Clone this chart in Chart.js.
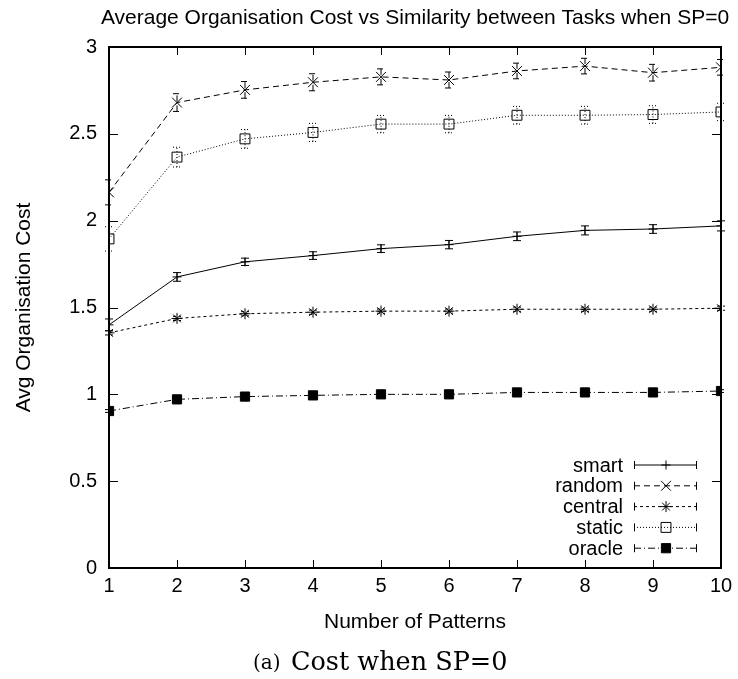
<!DOCTYPE html>
<html>
<head>
<meta charset="utf-8">
<script src="https://cdn.jsdelivr.net/npm/chart.js@4"></script>
<style>
  body { margin: 0; background: #fff; }
  #wrap { width: 738px; height: 679px; }
</style>
</head>
<body>
<div id="wrap"><canvas id="c" width="738" height="679"></canvas></div>
<script>
const patterns = [1, 2, 3, 4, 5, 6, 7, 8, 9, 10];
const yTicks = [0, 0.5, 1, 1.5, 2, 2.5, 3];

const smartCost = [1.40, 1.676, 1.763, 1.799, 1.839, 1.862, 1.91, 1.944, 1.952, 1.97];
const smartErr = [0.034, 0.025, 0.021, 0.022, 0.022, 0.024, 0.025, 0.026, 0.025, 0.029];
const randomCost = [2.163, 2.68, 2.753, 2.797, 2.828, 2.81, 2.862, 2.89, 2.852, 2.883];
const randomErr = [0.072, 0.051, 0.048, 0.049, 0.046, 0.046, 0.045, 0.045, 0.048, 0.045];
const centralCost = [1.354, 1.437, 1.464, 1.473, 1.479, 1.479, 1.49, 1.49, 1.49, 1.496];
const centralErr = [0.012, 0.012, 0.012, 0.012, 0.012, 0.012, 0.012, 0.012, 0.012, 0.012];
const staticCost = [1.895, 2.366, 2.471, 2.508, 2.556, 2.556, 2.607, 2.607, 2.611, 2.626];
const staticErr = [0.07, 0.057, 0.054, 0.052, 0.05, 0.05, 0.051, 0.051, 0.051, 0.05];
const oracleCost = [0.904, 0.971, 0.987, 0.994, 1.0, 1.0, 1.011, 1.011, 1.011, 1.019];
const oracleErr = [0.008, 0.008, 0.008, 0.008, 0.008, 0.008, 0.008, 0.008, 0.008, 0.008];

const FONT = "'Liberation Sans', Arial, sans-serif";

function series(label, vals, errs, style, radius, dash, fill) {
  return {
    label,
    data: patterns.map((x, i) => ({ x, y: vals[i] })),
    errors: errs,
    borderColor: '#000',
    borderWidth: 1,
    borderDash: dash,
    pointStyle: style,
    pointRadius: radius,
    pointBorderWidth: 1,
    pointBorderColor: '#000',
    pointBackgroundColor: fill,
    tension: 0
  };
}

// error bars, inward ticks, frame, legend and captions
const extras = {
  id: 'extras',
  afterDatasetsDraw(chart) {
    const ctx = chart.ctx, xs = chart.scales.x, ys = chart.scales.y;
    chart.data.datasets.forEach(ds => {
      ctx.save();
      ctx.strokeStyle = '#000';
      ctx.lineWidth = 1;
      ctx.setLineDash(ds.borderDash);
      ds.data.forEach((p, i) => {
        const px = xs.getPixelForValue(p.x);
        const lo = ys.getPixelForValue(p.y - ds.errors[i]);
        const hi = ys.getPixelForValue(p.y + ds.errors[i]);
        ctx.beginPath();
        ctx.moveTo(px, lo); ctx.lineTo(px, hi);
        ctx.moveTo(px - 4, lo); ctx.lineTo(px + 4, lo);
        ctx.moveTo(px - 4, hi); ctx.lineTo(px + 4, hi);
        ctx.stroke();
      });
      ctx.restore();
    });
  },
  afterDraw(chart) {
    const ctx = chart.ctx, a = chart.chartArea, xs = chart.scales.x, ys = chart.scales.y;
    ctx.save();
    ctx.strokeStyle = '#000';
    ctx.lineWidth = 1;
    ctx.beginPath();
    patterns.forEach(v => {
      const px = Math.round(xs.getPixelForValue(v)) + 0.5;
      ctx.moveTo(px, a.bottom); ctx.lineTo(px, a.bottom - 8);
      ctx.moveTo(px, a.top); ctx.lineTo(px, a.top + 8);
    });
    yTicks.forEach(v => {
      const py = Math.round(ys.getPixelForValue(v)) + 0.5;
      ctx.moveTo(a.left, py); ctx.lineTo(a.left + 9, py);
      ctx.moveTo(a.right, py); ctx.lineTo(a.right - 9, py);
    });
    ctx.stroke();
    ctx.lineWidth = 2;
    ctx.strokeRect(a.left, a.top, a.right - a.left, a.bottom - a.top);

    // legend, gnuplot style: text then sample
    ctx.font = '20px ' + FONT;
    ctx.fillStyle = '#000';
    ctx.textAlign = 'right';
    ctx.textBaseline = 'middle';
    chart.data.datasets.forEach((ds, i) => {
      const y = 465 + i * 20.8;
      ctx.fillText(ds.label, 623, y + 1);
      ctx.lineWidth = 1;
      ctx.setLineDash(ds.borderDash);
      ctx.beginPath();
      ctx.moveTo(634, y); ctx.lineTo(697, y);
      ctx.stroke();
      ctx.setLineDash([]);
      ctx.beginPath();
      ctx.moveTo(634.5, y - 4); ctx.lineTo(634.5, y + 4);
      ctx.moveTo(696.5, y - 4); ctx.lineTo(696.5, y + 4);
      ctx.stroke();
      ctx.fillStyle = ds.pointBackgroundColor;
      Chart.helpers.drawPoint(ctx, { pointStyle: ds.pointStyle, radius: ds.pointRadius, borderWidth: 1, rotation: 0 }, 666, y);
      ctx.fillStyle = '#000';
    });

    ctx.textAlign = 'center';
    ctx.textBaseline = 'middle';
    ctx.font = '21px ' + FONT;
    ctx.fillText('Average Organisation Cost vs Similarity between Tasks when SP=0', (a.left + a.right) / 2, 18);

    ctx.textAlign = 'left';
    ctx.textBaseline = 'alphabetic';
    ctx.font = '20px "DejaVu Serif", serif';
    ctx.fillText('(a)', 253, 669);
    ctx.font = '25.5px "DejaVu Serif", serif';
    ctx.fillText('Cost when SP=0', 291, 670);
    ctx.restore();
  }
};

new Chart(document.getElementById('c'), {
  type: 'line',
  data: {
    datasets: [
      series('smart', smartCost, smartErr, 'cross', 4.5, [], '#000'),
      series('random', randomCost, randomErr, 'crossRot', 7, [6, 4], '#000'),
      series('central', centralCost, centralErr, 'star', 5.5, [3, 3], '#000'),
      series('static', staticCost, staticErr, 'rect', 7, [1, 2], 'rgba(0,0,0,0)'),
      series('oracle', oracleCost, oracleErr, 'rect', 6.5, [7, 3, 1, 3], '#000')
    ]
  },
  options: {
    responsive: false,
    animation: false,
    devicePixelRatio: 1,
    layout: { padding: { top: 47, right: 17, left: 0, bottom: 0 } },
    plugins: { legend: { display: false }, title: { display: false }, tooltip: { enabled: false } },
    scales: {
      x: {
        type: 'linear', min: 1, max: 10,
        afterBuildTicks: s => { s.ticks = patterns.map(v => ({ value: v })); },
        afterFit: s => { s.height = 111; s.paddingLeft = 0; s.paddingRight = 0; },
        grid: { display: false, drawTicks: false },
        border: { display: false },
        ticks: { color: '#000', padding: 6, font: { size: 20, family: FONT }, maxRotation: 0, autoSkip: false },
        title: { display: true, text: 'Number of Patterns', color: '#000', font: { size: 21, family: FONT }, padding: { top: 0, bottom: 44 } }
      },
      y: {
        min: 0, max: 3,
        afterBuildTicks: s => { s.ticks = yTicks.map(v => ({ value: v })); },
        afterFit: s => { s.width = 109; s.paddingTop = 0; s.paddingBottom = 0; },
        grid: { display: false, drawTicks: false },
        border: { display: false },
        ticks: { color: '#000', padding: 12, font: { size: 20, family: FONT }, callback: v => String(v) },
        title: { display: true, text: 'Avg Organisation Cost', color: '#000', font: { size: 21, family: FONT }, padding: { top: 12, bottom: 0 } }
      }
    }
  },
  plugins: [extras]
});
</script>
</body>
</html>
